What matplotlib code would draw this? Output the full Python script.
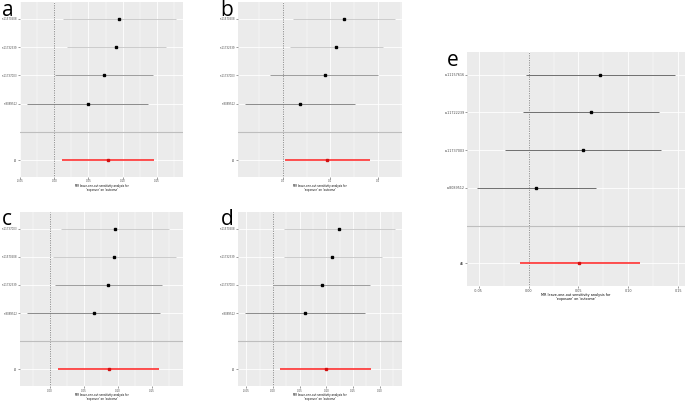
import matplotlib
matplotlib.use("Agg")
import matplotlib.pyplot as plt
from matplotlib.ticker import MultipleLocator, FormatStrFormatter

plt.rcParams["axes.unicode_minus"] = False

W, H = 685, 401

# leave-one-out results, rows top -> bottom, last entry is "All"
snps_a = ["rs11570508", "rs11732339", "rs11737003", "rs8089512", "All"]
est_a = [0.0946, 0.0900, 0.0730, 0.0488, 0.0780]
lo_a = [0.0132, 0.0190, 0.0015, -0.0395, 0.0117]
up_a = [0.1776, 0.1630, 0.1440, 0.1366, 0.1454]

snps_b = ["rs11570508", "rs11732339", "rs11737003", "rs8089512", "All"]
est_b = [0.1290, 0.1117, 0.0890, 0.0360, 0.0933]
lo_b = [0.0212, 0.0148, -0.0269, -0.0790, 0.0050]
up_b = [0.2360, 0.2106, 0.2020, 0.1520, 0.1840]

snps_c = ["rs11737003", "rs11570508", "rs11732339", "rs8089512", "All"]
est_c = [0.0954, 0.0949, 0.0862, 0.0648, 0.0867]
lo_c = [0.0160, 0.0049, 0.0083, -0.0326, 0.0130]
up_c = [0.1750, 0.1850, 0.1650, 0.1620, 0.1607]

snps_d = ["rs11570508", "rs11732339", "rs11737003", "rs8089512", "All"]
est_d = [0.1245, 0.1107, 0.0918, 0.0597, 0.0987]
lo_d = [0.0214, 0.0200, 0.0000, -0.0516, 0.0138]
up_d = [0.2277, 0.2038, 0.1824, 0.1717, 0.1843]

snps_e = ["rs11157616", "rs11722239", "rs11737003", "rs8089512", "All"]
est_e = [0.0720, 0.0627, 0.0543, 0.0077, 0.0510]
lo_e = [-0.0023, -0.0053, -0.0233, -0.0517, -0.0083]
up_e = [0.1467, 0.1307, 0.1323, 0.0677, 0.1117]

XLABEL = "MR leave-one-out sensitivity analysis for\n'exposure' on 'outcome'"


def px_rect(x0, y0, x1, y1):
    return [x0 / W, 1 - y1 / H, (x1 - x0) / W, (y1 - y0) / H]


def forest(ax, snps, est, lo, up, step, fmt, colours, lw, fs):
    # y positions like ggplot: All=1, blank=2, snps from 3 upwards
    n = len(snps) - 1
    ypos = [n + 2 - i for i in range(n)] + [1]

    ax.set_facecolor("#EBEBEB")
    for s in ax.spines.values():
        s.set_visible(False)

    lo_all, up_all = min(lo), max(up)
    pad = (up_all - lo_all) * 0.05
    ax.set_xlim(lo_all - pad, up_all + pad)
    ax.set_ylim(0.4, n + 2.6)

    ax.xaxis.set_major_locator(MultipleLocator(step))
    ax.xaxis.set_minor_locator(MultipleLocator(step / 2))
    ax.xaxis.set_major_formatter(FormatStrFormatter(fmt))
    ax.grid(which="major", color="white", lw=0.6)
    ax.grid(which="minor", axis="x", color="white", lw=0.3)
    ax.set_axisbelow(True)

    ax.axvline(0, color="#333333", ls=(0, (1, 1.5)), lw=0.5, zorder=2)
    ax.axhline(2, color="#BEBEBE", lw=0.8, zorder=2)

    for i in range(n + 1):
        if i == n:
            ax.plot([lo[i], up[i]], [ypos[i]] * 2, color="#FF2020", lw=1.1,
                    solid_capstyle="butt", zorder=3)
            ax.plot(est[i], ypos[i], "s", color="#D01010", ms=1.6, zorder=4)
        else:
            ax.plot([lo[i], up[i]], [ypos[i]] * 2, color=colours[i], lw=lw,
                    solid_capstyle="butt", zorder=3)
            ax.plot(est[i], ypos[i], "s", color="black", ms=1.6, zorder=4)

    ax.set_yticks(ypos)
    ax.set_yticklabels(snps)
    ax.tick_params(axis="both", labelsize=fs, colors="#4D4D4D", length=1.2,
                   width=0.4, pad=0.6)
    ax.tick_params(which="minor", length=0)
    ax.set_xlabel(XLABEL, fontsize=fs, labelpad=0.6, linespacing=1.0)


fig = plt.figure(figsize=(W / 100, H / 100), dpi=100)

grey_rows = ["#C4C4C4", "#C4C4C4", "#8E8E8E", "#787878"]
panels = [
    ("a", (20, 2, 183, 177), snps_a, est_a, lo_a, up_a, 0.05, "%.2f", (2, 16)),
    ("b", (238, 2, 402, 177), snps_b, est_b, lo_b, up_b, 0.1, "%.1f", (220, 16)),
    ("c", (20, 212, 183, 386), snps_c, est_c, lo_c, up_c, 0.05, "%.2f", (2, 225)),
    ("d", (238, 212, 402, 386), snps_d, est_d, lo_d, up_d, 0.05, "%.2f", (221, 225)),
]

for letter, box, snps, est, lo, up, step, fmt, lpos in panels:
    ax = fig.add_axes(px_rect(*box))
    forest(ax, snps, est, lo, up, step, fmt, grey_rows, 0.6, 1.9)
    fig.text(lpos[0] / W, 1 - lpos[1] / H, letter, fontsize=15,
             family="Open Sans", va="baseline", ha="left")

ax_e = fig.add_axes(px_rect(467, 52, 685, 286))
forest(ax_e, snps_e, est_e, lo_e, up_e, 0.05, "%.2f", ["#6E6E6E"] * 4, 0.7, 2.4)
fig.text(447 / W, 1 - 66 / H, "e", fontsize=15, family="Open Sans",
         va="baseline", ha="left")

fig.savefig("out.png", dpi=100)
